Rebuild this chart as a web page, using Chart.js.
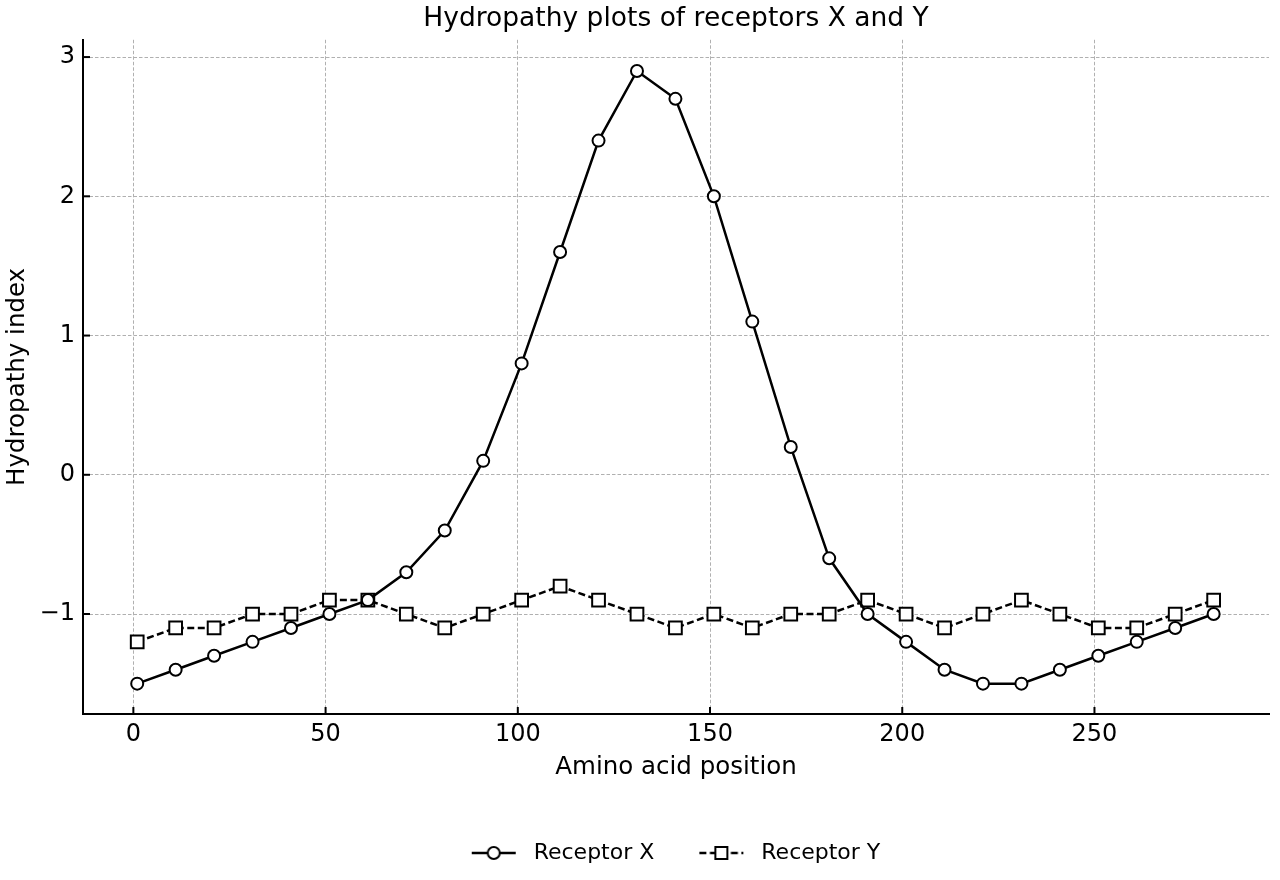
<!DOCTYPE html>
<html>
<head>
<meta charset="utf-8">
<title>Hydropathy plots</title>
<script src="https://cdn.jsdelivr.net/npm/chart.js@4.4.1/dist/chart.umd.min.js"></script>
<style>
  html, body { margin: 0; padding: 0; background: #fff; overflow: hidden; }
  #wrap { width: 1280px; height: 880px; }
  canvas { display: block; }
</style>
</head>
<body>
<div id="wrap"><canvas id="hydroChart" width="1280" height="880"></canvas></div>
<script>
// amino acid positions (x)
const positions = [1, 11, 21, 31, 41, 51, 61, 71, 81, 91, 101, 111, 121, 131, 141,
  151, 161, 171, 181, 191, 201, 211, 221, 231, 241, 251, 261, 271, 281];

// hydropathy index, receptor X
const receptorX = [-1.5, -1.4, -1.3, -1.2, -1.1, -1.0, -0.9, -0.7, -0.4, 0.1, 0.8, 1.6, 2.4, 2.9, 2.7,
  2.0, 1.1, 0.2, -0.6, -1.0, -1.2, -1.4, -1.5, -1.5, -1.4, -1.3, -1.2, -1.1, -1.0];

// hydropathy index, receptor Y
const receptorY = [-1.2, -1.1, -1.1, -1.0, -1.0, -0.9, -0.9, -1.0, -1.1, -1.0, -0.9, -0.8, -0.9, -1.0, -1.1,
  -1.0, -1.1, -1.0, -1.0, -0.9, -1.0, -1.1, -1.0, -0.9, -1.0, -1.1, -1.1, -1.0, -0.9];

const seriesNames = ['Receptor X', 'Receptor Y'];

const FONT = 'DejaVu Sans';

// legend sample: line + marker, like matplotlib (transparent margin on the left for spacing)
const ICON_LEFT = 35, ICON_LINE = 44, ICON_W = 86;
function legendIcon(style, dashed) {
  const c = document.createElement('canvas');
  c.width = ICON_W; c.height = 20;
  const g = c.getContext('2d');
  g.strokeStyle = '#000';
  g.lineWidth = 2.5;
  if (dashed) g.setLineDash([7, 3.5]);
  g.beginPath(); g.moveTo(ICON_LEFT, 10); g.lineTo(ICON_LEFT + ICON_LINE, 10); g.stroke();
  g.setLineDash([]);
  g.fillStyle = '#fff';
  g.lineWidth = 2;
  const cx = ICON_LEFT + ICON_LINE / 2;
  if (style === 'circle') {
    g.beginPath(); g.arc(cx, 10, 6, 0, Math.PI * 2); g.fill(); g.stroke();
  } else {
    g.fillRect(cx - 6, 4, 12, 12); g.strokeRect(cx - 6, 4, 12, 12);
  }
  return c;
}
const icons = [legendIcon('circle', false), legendIcon('rect', true)];

// inward tick marks (matplotlib style); title + legend centred on the plot area
const axesStyle = {
  id: 'axesStyle',
  afterLayout(chart) {
    const area = chart.chartArea;
    const lg = chart.legend;
    lg.left = area.left - ICON_LEFT;
    lg.right = area.right;
    lg.width = lg.right - lg.left;
    const tb = chart.titleBlock;
    tb.left = area.left;
    tb.right = area.right;
    tb.width = tb.right - tb.left;
  },
  afterDraw(chart) {
    const { ctx, chartArea, scales } = chart;
    ctx.save();
    ctx.strokeStyle = '#000';
    ctx.lineWidth = 2;
    scales.x.ticks.forEach(t => {
      const px = scales.x.getPixelForValue(t.value);
      ctx.beginPath(); ctx.moveTo(px, chartArea.bottom); ctx.lineTo(px, chartArea.bottom - 7); ctx.stroke();
    });
    scales.y.ticks.forEach(t => {
      const py = scales.y.getPixelForValue(t.value);
      ctx.beginPath(); ctx.moveTo(chartArea.left, py); ctx.lineTo(chartArea.left + 7, py); ctx.stroke();
    });
    ctx.restore();
  }
};

const ctx = document.getElementById('hydroChart').getContext('2d');
new Chart(ctx, {
  type: 'line',
  data: {
    datasets: [
      {
        label: seriesNames[0],
        data: positions.map((x, i) => ({ x: x, y: receptorX[i] })),
        borderColor: '#000',
        borderWidth: 2.5,
        pointStyle: 'circle',
        pointRadius: 6,
        pointBorderWidth: 2,
        pointBackgroundColor: '#fff',
        pointBorderColor: '#000',
        tension: 0,
        fill: false
      },
      {
        label: seriesNames[1],
        data: positions.map((x, i) => ({ x: x, y: receptorY[i] })),
        borderColor: '#000',
        borderWidth: 2.5,
        borderDash: [7, 3.5],
        pointStyle: 'rect',
        pointRadius: 9,
        pointBorderWidth: 2,
        pointBackgroundColor: '#fff',
        pointBorderColor: '#000',
        tension: 0,
        fill: false
      }
    ]
  },
  options: {
    responsive: false,
    animation: false,
    events: [],
    layout: { padding: { left: 0, right: 6, top: 0, bottom: 6 } },
    plugins: {
      title: {
        display: true,
        text: 'Hydropathy plots of receptors X and Y',
        color: '#000',
        font: { family: FONT, size: 26.5, weight: 'normal' },
        padding: { top: 3, bottom: 5 }
      },
      legend: {
        position: 'bottom',
        labels: {
          color: '#000',
          font: { family: FONT, size: 22 },
          usePointStyle: true,
          pointStyleWidth: ICON_W,
          padding: 10,
          generateLabels(chart) {
            return chart.data.datasets.map((ds, i) => ({
              text: ds.label,
              pointStyle: icons[i],
              fillStyle: '#fff',
              strokeStyle: '#000',
              lineWidth: 0,
              datasetIndex: i,
              hidden: false
            }));
          }
        }
      },
      tooltip: { enabled: false }
    },
    scales: {
      x: {
        type: 'linear',
        min: -13.1,
        max: 295.4,
        afterFit(scale) {
          scale.height = 118;
          scale.paddingLeft = 0;
          scale.paddingRight = 0;
        },
        ticks: {
          stepSize: 50,
          includeBounds: false,
          color: '#000',
          font: { family: FONT, size: 24 },
          padding: 6,
          maxRotation: 0
        },
        grid: {
          drawTicks: false,
          color: '#b0b0b0',
          lineWidth: 1
        },
        border: { display: true, color: '#000', width: 2, dash: [3.5, 2] },
        title: {
          display: true,
          text: 'Amino acid position',
          color: '#000',
          font: { family: FONT, size: 24.5 },
          padding: { top: 4, bottom: 50 }
        }
      },
      y: {
        type: 'linear',
        min: -1.718,
        max: 3.124,
        afterFit(scale) {
          scale.width = 83;
          scale.paddingTop = 0;
          scale.paddingBottom = 0;
        },
        ticks: {
          stepSize: 1,
          includeBounds: false,
          color: '#000',
          font: { family: FONT, size: 24 },
          padding: 8,
          callback: v => String(v).replace('-', '\u2212')
        },
        grid: {
          drawTicks: false,
          color: '#b0b0b0',
          lineWidth: 1
        },
        border: { display: true, color: '#000', width: 2, dash: [3.5, 2] },
        title: {
          display: true,
          text: 'Hydropathy index',
          color: '#000',
          font: { family: FONT, size: 24.5 },
          padding: { top: 3, bottom: 4 }
        }
      }
    }
  },
  plugins: [axesStyle]
});
</script>
</body>
</html>
